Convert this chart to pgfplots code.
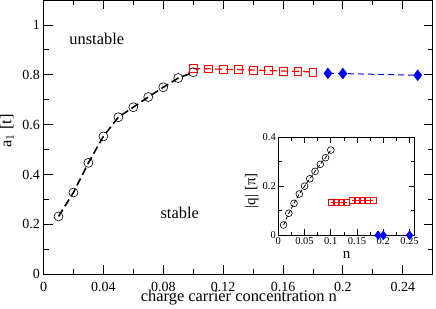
\documentclass[border=0pt]{standalone}
\usepackage{pgfplots}
\pgfplotsset{compat=1.18}
\usepackage{fontspec}
\setmainfont{Liberation Serif}
\begin{document}
\begin{tikzpicture}
\begin{axis}[
  at={(43.5pt,33.7pt)}, anchor=south west, scale only axis,
  width=389.2pt, height=274.3pt,
  xmin=0, xmax=0.26, ymin=0, ymax=1.1,
  axis line style={line width=0.8pt},
  xtick={0,0.04,0.08,0.12,0.16,0.2,0.24},
  xticklabels={0,0.04,0.08,0.12,0.16,0.2,0.24},
  minor xtick={0.02,0.06,0.1,0.14,0.18,0.22},
  ytick={0,0.2,0.4,0.6,0.8,1},
  yticklabels={0,0.2,0.4,0.6,0.8,1},
  minor ytick={0.1,0.3,0.5,0.7,0.9},
  tick align=inside, major tick length=9pt, minor tick length=5pt,
  tick style={line width=0.8pt, black},
  ticklabel style={font=\fontsize{14}{16}\selectfont},
  xticklabel style={inner sep=0pt, yshift=-7.2pt},
  /pgf/number format/assume math mode=true,
  xlabel={charge carrier concentration n},
  ylabel={a$_1$ [t]},
  label style={font=\fontsize{16.4}{18}\selectfont},
  xlabel style={at={(axis description cs:0.502,0)}, anchor=base, inner sep=0pt, yshift=-27.6pt},
  ylabel style={at={(axis description cs:0,0.522)}, anchor=center, rotate=0, yshift=36.5pt},
  clip=false,
]
\addplot[black, line width=1.6pt, dash pattern=on 8pt off 4pt, mark=o, mark size=4.5pt, mark options={solid, line width=0.6pt, fill=none}]
coordinates {(0.01,0.232)(0.02,0.328)(0.03,0.447)(0.04,0.553)(0.05,0.630)(0.06,0.670)(0.07,0.711)(0.08,0.750)(0.09,0.787)(0.10,0.810)};
\addplot[red, line width=1.2pt, dash pattern=on 7pt off 4pt, mark=square, mark size=3.8pt, mark options={solid, line width=0.6pt, fill=none}]
coordinates {(0.10,0.825)(0.11,0.824)(0.12,0.822)(0.13,0.821)(0.14,0.819)(0.15,0.817)(0.16,0.815)(0.17,0.814)(0.18,0.811)};
\addplot[blue, line width=1pt, dash pattern=on 6pt off 4pt, mark=diamond*, mark size=5pt, mark options={solid, fill=blue}]
coordinates {(0.19,0.806)(0.20,0.805)(0.25,0.798)};
\node[font=\fontsize{16.4}{18}\selectfont] at (axis cs:0.0356,0.943) {unstable};
\node[font=\fontsize{16.4}{18}\selectfont] at (axis cs:0.091,0.248) {stable};
\end{axis}
\begin{axis}[
  at={(278.3pt,72.7pt)}, anchor=south west, scale only axis,
  width=136.5pt, height=98.3pt,
  xmin=0, xmax=0.26, ymin=0, ymax=0.4,
  axis background/.style={fill=white},
  axis line style={line width=0.8pt},
  xtick={0,0.05,0.1,0.15,0.2,0.25},
  xticklabels={0,0.05,0.1,0.15,0.2,0.25},
  minor xtick={0.025,0.075,0.125,0.175,0.225},
  ytick={0,0.2,0.4},
  yticklabels={0,0.2,0.4},
  minor ytick={0.1,0.3},
  tick align=inside, major tick length=6pt, minor tick length=3.5pt,
  tick style={line width=0.8pt, black},
  ticklabel style={font=\fontsize{10.5}{12}\selectfont},
  xticklabel style={yshift=1pt},
  yticklabel style={xshift=1pt},
  /pgf/number format/assume math mode=true,
  xlabel={n},
  ylabel={|q| [π]},
  label style={font=\fontsize{15}{17}\selectfont},
  xlabel style={at={(axis description cs:0.5,0)}, anchor=base, yshift=-22.7pt},
  ylabel style={at={(axis description cs:0,0.453)}, anchor=center, yshift=26.6pt},
  clip=false,
]
\addplot[black, line width=0.8pt, dash pattern=on 4pt off 2pt, mark=o, mark size=3.4pt, mark options={solid, line width=0.6pt, fill=none}]
coordinates {(0.01,0.042)(0.02,0.090)(0.03,0.130)(0.04,0.168)(0.05,0.200)(0.06,0.230)(0.07,0.260)(0.08,0.289)(0.09,0.316)(0.10,0.347)};
\addplot[red, line width=0.8pt, mark=square, mark size=3pt, mark options={solid, line width=0.6pt, fill=none}]
coordinates {(0.10,0.134)(0.11,0.134)(0.12,0.134)(0.13,0.134)};
\addplot[red, line width=0.8pt, mark=square, mark size=3pt, mark options={solid, line width=0.6pt, fill=none}]
coordinates {(0.14,0.144)(0.15,0.144)(0.16,0.144)(0.17,0.144)(0.18,0.144)};
\addplot[blue, only marks, mark=diamond*, mark size=4.5pt, mark options={fill=blue}]
coordinates {(0.19,0)(0.20,0)(0.25,0)};
\end{axis}
\pgfresetboundingbox
\path[use as bounding box] (0pt,0pt) rectangle (436pt,308pt);
\end{tikzpicture}
\end{document}
